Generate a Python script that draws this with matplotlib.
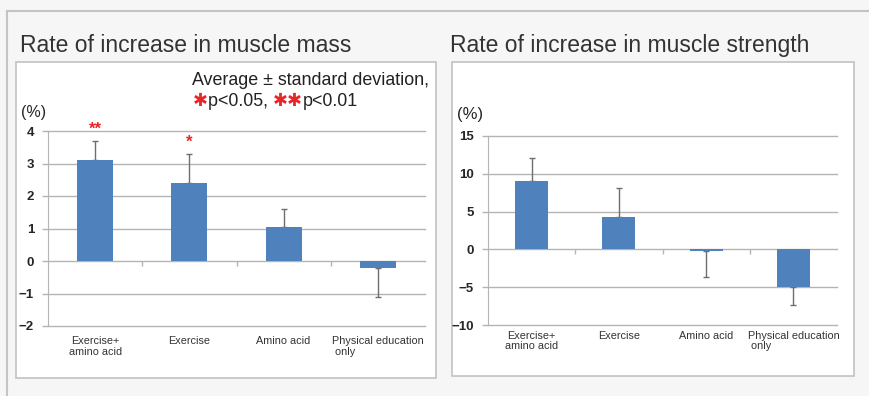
import matplotlib
matplotlib.use("Agg")
import matplotlib.pyplot as plt
from matplotlib.patches import Rectangle
from matplotlib.lines import Line2D
import numpy as np

plt.rcParams['font.family'] = ['Liberation Sans', 'DejaVu Sans']
plt.rcParams['axes.unicode_minus'] = True

categories = ["Exercise+\namino acid", "Exercise", "Amino acid", "Physical education\n only"]

mass_mean = [3.1, 2.4, 1.05, -0.2]
mass_sd = [0.6, 0.9, 0.55, 0.9]
mass_sig = ["**", "*", "", ""]
mass_ticks = [-2, -1, 0, 1, 2, 3, 4]

strength_mean = [9.1, 4.3, -0.25, -5.0]
strength_sd = [3.0, 3.8, 3.4, 2.3]
strength_ticks = [-10, -5, 0, 5, 10, 15]

BAR = "#4f81bd"
GRID = "#b4b4b4"
ERR = "#6e6e6e"
RED = "#e8262a"
TXT = "#262626"

W, H = 869, 396
fig = plt.figure(figsize=(W / 100, H / 100), dpi=100, facecolor="#f6f6f6")


def px(x0, y0, x1, y1):
    """Pixel box (top-left origin) -> figure fraction rect."""
    return [x0 / W, 1 - y1 / H, (x1 - x0) / W, (y1 - y0) / H]


# outer frame lines
fig.add_artist(Line2D([7 / W, 7 / W], [0, 1 - 11 / H], color="#c4c4c4", lw=1.5,
                      transform=fig.transFigure, zorder=-5))
fig.add_artist(Line2D([7 / W, 1], [1 - 11 / H, 1 - 11 / H], color="#c4c4c4", lw=1.5,
                      transform=fig.transFigure, zorder=-5))

# white panels
for box in [(16, 62, 436, 378), (452, 62, 854, 376)]:
    r = px(*box)
    fig.add_artist(Rectangle((r[0], r[1]), r[2], r[3], transform=fig.transFigure,
                             facecolor="white", edgecolor="#c2c2c2", lw=1.2,
                             zorder=-5))


def draw_panel(rect, means, sds, ticks, label_pad):
    ax = fig.add_axes(rect)
    ax.set_facecolor("none")
    x = np.arange(len(means))
    means = np.asarray(means)
    sds = np.asarray(sds)
    # one-sided error bars pointing away from zero
    lower = np.where(means < 0, sds, 0)
    upper = np.where(means >= 0, sds, 0)
    for t in ticks:
        ax.axhline(t, color=GRID, lw=1.0, zorder=0, clip_on=False)
    ax.errorbar(x, means, yerr=[lower, upper], fmt="none", ecolor=ERR,
                elinewidth=1.0, capsize=2.2, capthick=1.0, zorder=2)
    ax.bar(x, means, width=0.38, color=BAR, zorder=3)
    # category boundary ticks on the zero line
    for b in np.arange(0.5, len(means) - 0.5, 1.0):
        ax.plot([b], [0], marker=3, markersize=3.5, color=GRID, zorder=1)
    ax.set_xlim(-0.5, len(means) - 0.5)
    ax.set_ylim(ticks[0], ticks[-1])
    ax.set_yticks(ticks)
    ax.set_yticklabels([f"{t:d}".replace("-", "\u2212") for t in ticks],
                       fontsize=9.5, fontweight="bold", color=TXT)
    ax.tick_params(axis="y", length=4, width=1, color=GRID, pad=6)
    ax.set_xticks(x)
    ax.set_xticklabels(categories, fontsize=7.8, color="#333333", linespacing=1.1)
    for lab in ax.get_xticklabels():
        lab.set_multialignment("left" if lab.get_text().startswith("Physical") else "center")
    ax.tick_params(axis="x", length=0, pad=label_pad)
    for s in ["top", "right", "bottom"]:
        ax.spines[s].set_visible(False)
    ax.spines["left"].set_color(GRID)
    return ax


ax1 = draw_panel(px(48, 131, 425, 326), mass_mean, mass_sd, mass_ticks, 7)
ax2 = draw_panel(px(488, 136, 837, 325), strength_mean, strength_sd, strength_ticks, 4)

# significance marks above the mass bars
for i, (m, s, sig) in enumerate(zip(mass_mean, mass_sd, mass_sig)):
    if sig:
        ax1.annotate(sig, (i, m + s), xytext=(0, 8), textcoords="offset points",
                     ha="center", va="center", color=RED, fontsize=12,
                     fontweight="bold")

# titles
fig.text(20 / W, 1 - 52 / H, "Rate of increase in muscle mass", fontsize=16.5,
         color="#333333", va="baseline")
fig.text(450 / W, 1 - 52 / H, "Rate of increase in muscle strength", fontsize=16.5,
         color="#333333", va="baseline")

# unit labels
fig.text(21 / W, 1 - 112 / H, "(%)", fontsize=11.5, color=TXT, va="center")
fig.text(457 / W, 1 - 115 / H, "(%)", fontsize=12, color=TXT, va="center")

# legend note
fig.text(192 / W, 1 - 85 / H, "Average \u00b1 standard deviation,", fontsize=12.9,
         color="#222222", va="baseline")
x0 = 193 / W
yb = 1 - 106 / H
parts = [("\u2731", RED), ("p<0.05, ", "#222222"), ("\u2731\u2731", RED), ("p<0.01", "#222222")]
renderer = fig.canvas.get_renderer()
for s, c in parts:
    t = fig.text(x0, yb, s, fontsize=12.9, color=c, va="baseline",
                 family=["DejaVu Sans"] if c == RED else ["Liberation Sans"])
    bb = t.get_window_extent(renderer=renderer)
    x0 += bb.width / W

fig.savefig("out.png", dpi=100, facecolor=fig.get_facecolor())
